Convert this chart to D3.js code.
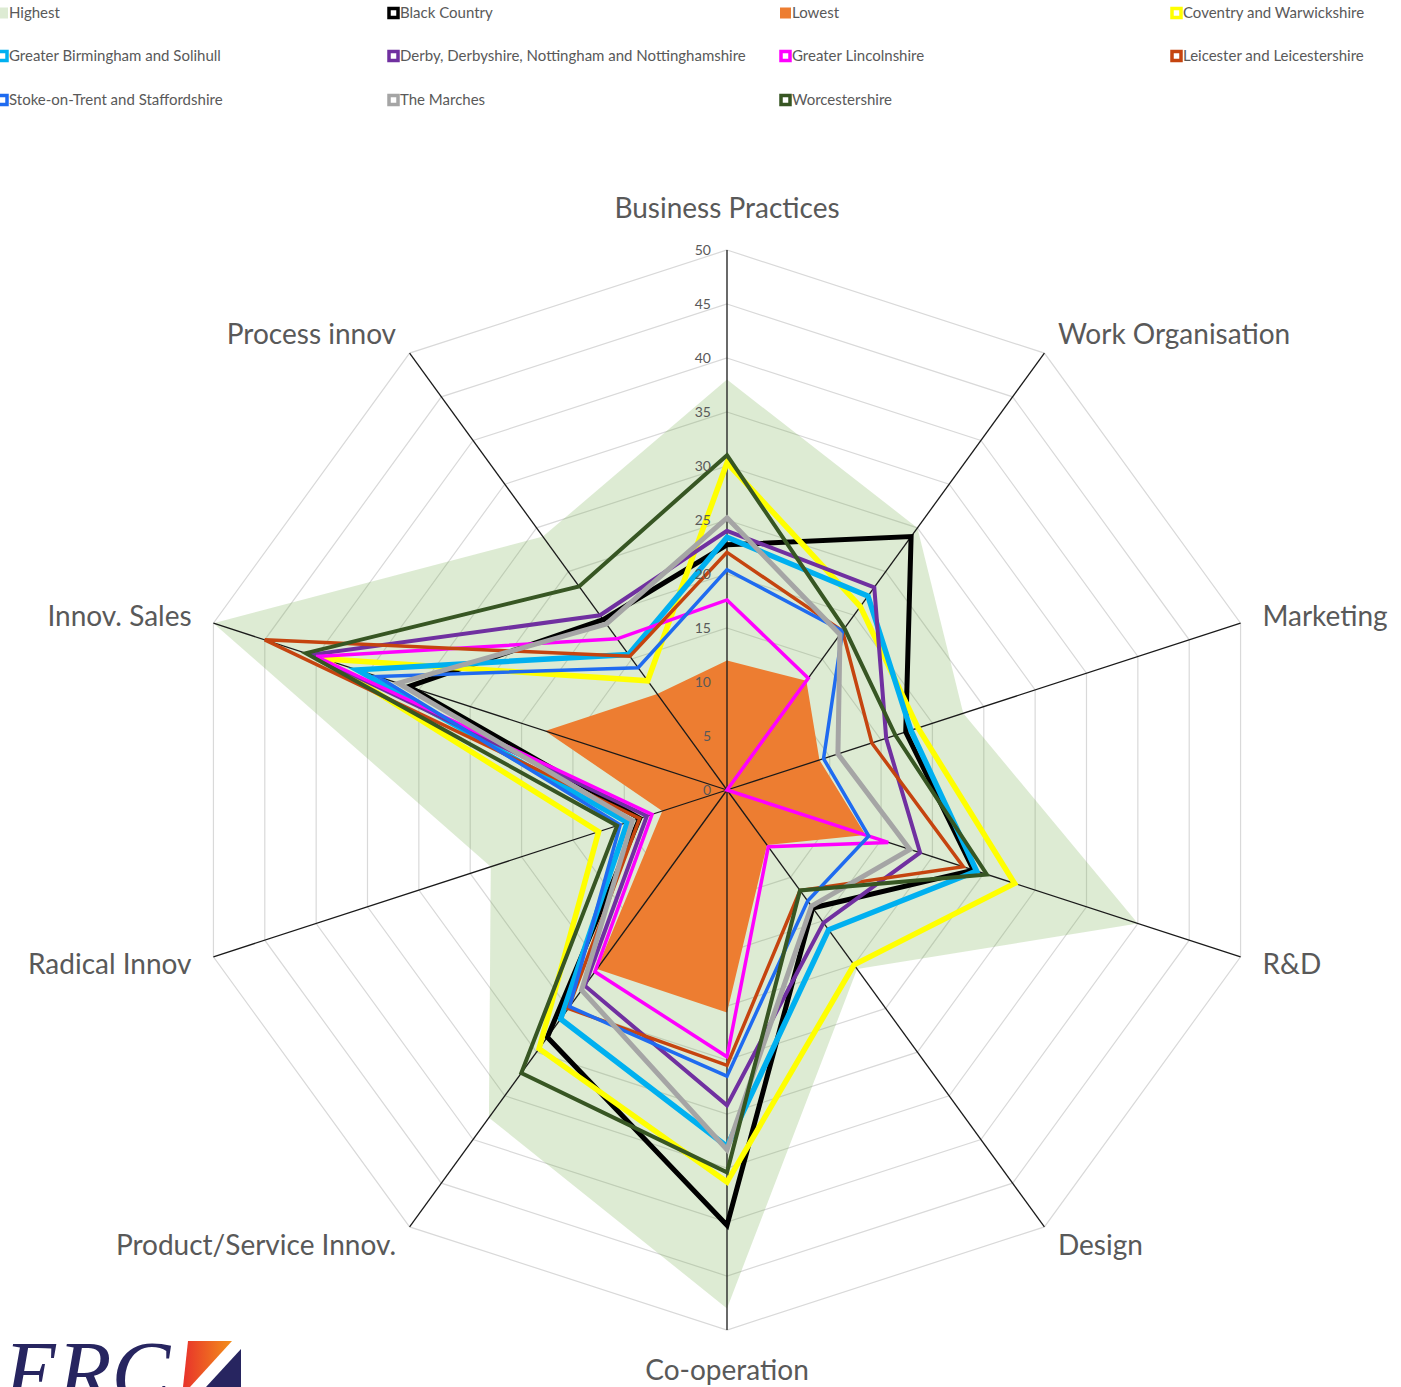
<!DOCTYPE html>
<html>
<head>
<meta charset="utf-8">
<script src="https://cdn.jsdelivr.net/npm/d3@7"></script>
<style>
  body { margin: 0; background: #fff; }
  svg { display: block; font-family: Lato, "Open Sans", sans-serif; }
</style>
</head>
<body>
<div id="chart"></div>
<script>
const axes = ["Business Practices", "Work Organisation", "Marketing", "R&D", "Design",
              "Co-operation", "Product/Service Innov.", "Radical Innov", "Innov. Sales", "Process innov"];
const ticks = [0, 5, 10, 15, 20, 25, 30, 35, 40, 45, 50];

const seriesNames = ["Highest", "Black Country", "Lowest", "Coventry and Warwickshire",
  "Greater Birmingham and Solihull", "Derby, Derbyshire, Nottingham and Nottinghamshire",
  "Greater Lincolnshire", "Leicester and Leicestershire", "Stoke-on-Trent and Staffordshire",
  "The Marches", "Worcestershire"];

// values per axis, in the order of `axes`
const highest      = [38, 30, 23, 40, 20.5, 48, 37.5, 23, 50, 29];
const blackCountry = [22.7, 29, 17.4, 24, 13.5, 40.3, 28.3, 8.5, 31, 19.5];
const lowest       = [12, 12.5, 9, 13.5, 6.3, 20.6, 20.5, 6.3, 17.7, 11];
const coventry     = [30.3, 21, 18.6, 28, 20, 36.3, 29.6, 12.5, 39.3, 12.5];
const birmingham   = [23.4, 22.2, 17.9, 24.3, 16, 33, 26.2, 9.7, 36, 15.5];
const derby        = [24, 23.2, 15.5, 18.8, 15.2, 29.2, 22.4, 7.8, 40.5, 20];
const lincs        = [17.6, 12.8, 0, 15.7, 6.5, 24.7, 20.8, 7.3, 40, 17.3];
const leicester    = [22, 18.2, 14.1, 23, 11.5, 25.5, 25, 8.5, 45, 15.3];
const stoke        = [20.4, 18.2, 9.4, 13.8, 12.7, 26.5, 24.8, 10.4, 34, 14];
const marches      = [25.2, 17.8, 10.8, 17.8, 13.3, 33.3, 22.9, 9.2, 32, 19];
const worcs        = [31, 18.5, 16.4, 25.3, 11.5, 35.4, 32.4, 10.7, 41, 23.3];

const seriesValues = [highest, blackCountry, lowest, coventry, birmingham, derby,
                      lincs, leicester, stoke, marches, worcs];

const styles = {
  "Highest": { fill: "#70ad47", opacity: 0.24 },
  "Black Country": { stroke: "#000000", w: 5 },
  "Lowest": { fill: "#ed7d31", opacity: 1 },
  "Coventry and Warwickshire": { stroke: "#ffff00", w: 5.5 },
  "Greater Birmingham and Solihull": { stroke: "#00b0f0", w: 5.5 },
  "Derby, Derbyshire, Nottingham and Nottinghamshire": { stroke: "#7030a0", w: 4 },
  "Greater Lincolnshire": { stroke: "#ff00ff", w: 3.5 },
  "Leicester and Leicestershire": { stroke: "#c5440f", w: 3.5 },
  "Stoke-on-Trent and Staffordshire": { stroke: "#1f6bf0", w: 3.5 },
  "The Marches": { stroke: "#a5a5a5", w: 5 },
  "Worcestershire": { stroke: "#375623", w: 4 }
};

const width = 1401, height = 1387;
const cx = 727, cy = 790, R = 540;

const svg = d3.select("#chart").append("svg")
  .attr("width", width).attr("height", height);

const r = d3.scaleLinear().domain([0, 50]).range([0, R]);
const angle = d3.scaleLinear().domain([0, axes.length]).range([0, 2 * Math.PI]);

const g = svg.append("g").attr("transform", `translate(${cx},${cy})`);

const radial = d3.lineRadial()
  .angle((d, i) => angle(i))
  .radius(d => r(d))
  .curve(d3.curveLinearClosed);

// grid
g.append("g").selectAll("path")
  .data(ticks.slice(1))
  .enter().append("path")
  .attr("d", t => radial(axes.map(() => t)))
  .attr("fill", "none")
  .attr("stroke", "#d9d9d9")
  .attr("stroke-width", 1.2);

// filled series (Highest, Lowest)
seriesNames.forEach((name, si) => {
  const st = styles[name];
  if (!st.fill) return;
  g.append("path").attr("d", radial(seriesValues[si]))
    .attr("fill", st.fill).attr("fill-opacity", st.opacity);
});

// spokes
g.append("g").selectAll("line")
  .data(axes)
  .enter().append("line")
  .attr("x1", 0).attr("y1", 0)
  .attr("x2", (d, i) => r(50) * Math.sin(angle(i)))
  .attr("y2", (d, i) => -r(50) * Math.cos(angle(i)))
  .attr("stroke", "#1a1a1a")
  .attr("stroke-width", 1.3);

// line series
seriesNames.forEach((name, si) => {
  const st = styles[name];
  if (st.fill) return;
  g.append("path").attr("d", radial(seriesValues[si]))
    .attr("fill", "none").attr("stroke", st.stroke).attr("stroke-width", st.w)
    .attr("stroke-linejoin", "miter").attr("stroke-miterlimit", 4);
});

// tick labels
g.append("g").selectAll("text")
  .data(ticks)
  .enter().append("text")
  .attr("x", -16)
  .attr("y", t => -r(t))
  .attr("dy", "0.35em")
  .attr("text-anchor", "end")
  .attr("fill", "#595959")
  .style("font-size", "14px")
  .text(t => t);

// axis labels
g.append("g").selectAll("text")
  .data(axes)
  .enter().append("text")
  .each(function(d, i) {
    const a = angle(i);
    const s = Math.sin(a), c = Math.cos(a);
    const rr = R + 23;
    let x = rr * s, y = -rr * c;
    let anchor = "middle";
    if (s > 0.1) anchor = "start";
    else if (s < -0.1) anchor = "end";
    else y += c > 0 ? -19 : 17;
    d3.select(this)
      .attr("x", x).attr("y", y)
      .attr("dy", "0.35em")
      .attr("text-anchor", anchor);
  })
  .attr("fill", "#595959")
  .style("font-size", "28px")
  .text(d => d);

// legend
const legend = svg.append("g");
const colX = [-4, 387, 779, 1170];
const rowY = [13, 56, 100];
seriesNames.forEach((name, i) => {
  const col = i % 4, row = Math.floor(i / 4);
  const st = styles[name];
  const item = legend.append("g")
    .attr("transform", `translate(${colX[col]},${rowY[row]})`);
  if (st.fill) {
    item.append("rect")
      .attr("x", 1).attr("y", -5.5).attr("width", 11).attr("height", 11)
      .attr("fill", st.fill).attr("fill-opacity", st.opacity);
  } else {
    item.append("rect")
      .attr("x", 2).attr("y", -4.5).attr("width", 9).attr("height", 9)
      .attr("fill", "#fff").attr("stroke", st.stroke).attr("stroke-width", 3.5);
  }
  item.append("text")
    .attr("x", 13).attr("y", 0).attr("dy", "0.35em")
    .attr("fill", "#595959")
    .style("font-size", "15px")
    .text(name);
});

// logo
const logo = svg.append("g");
logo.append("text")
  .attr("x", 4).attr("y", 1402)
  .attr("fill", "#272560")
  .style("font-family", "'Liberation Serif', 'DejaVu Serif', serif")
  .style("font-style", "italic")
  .style("font-size", "88px")
  .text("ERC");
const grad = svg.append("defs").append("linearGradient").attr("id", "lg");
grad.append("stop").attr("offset", "0%").attr("stop-color", "#e8322b");
grad.append("stop").attr("offset", "100%").attr("stop-color", "#f3901a");
logo.append("polygon")
  .attr("points", "188,1341 232,1341 190,1387 183,1387")
  .attr("fill", "url(#lg)");
logo.append("polygon")
  .attr("points", "241,1349 241,1387 206,1387")
  .attr("fill", "#272560");
</script>
</body>
</html>
